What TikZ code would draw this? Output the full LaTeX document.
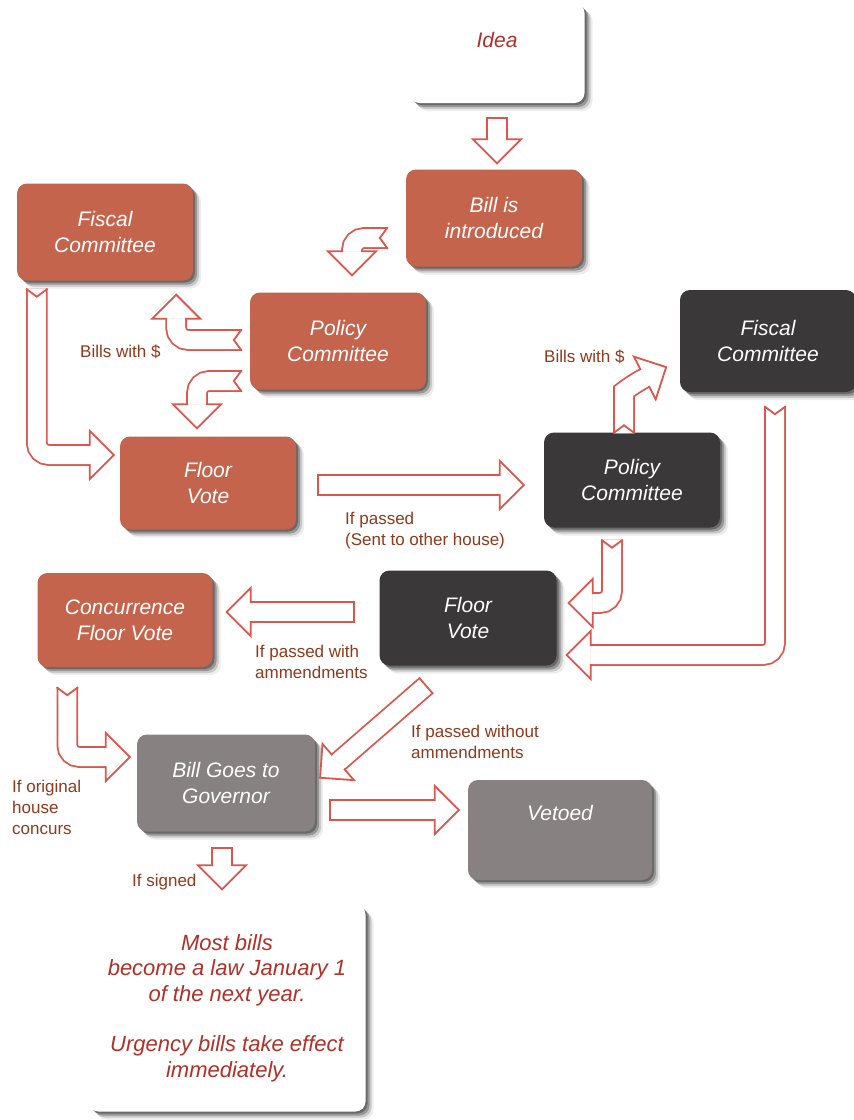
\documentclass[tikz,border=0pt]{standalone}
\usepackage{fontspec}
\setmainfont{Liberation Sans}
\usetikzlibrary{calc,shadows}

\definecolor{brick}{HTML}{C5644C}
\definecolor{slate}{HTML}{3A3838}
\definecolor{ash}{HTML}{878181}
\definecolor{arrowred}{HTML}{D9574F}
\definecolor{labelbrown}{HTML}{8E3A1C}
\definecolor{notered}{HTML}{B0302A}

% hollow head and notched (or flat) tail of a fat arrow
\newcommand{\fathead}[2]{%
  \begin{scope}[shift={#1}, rotate=#2]
    \fill[white] (0,-24) -- (24,0) -- (0,24) -- cycle;
    \draw[tipline] (0,-9) -- (0,-24) -- (24,0) -- (0,24) -- (0,9);
  \end{scope}}
\newcommand{\fattail}[3]{%
  \begin{scope}[shift={#1}, rotate=#2]
    \draw[tipline] (0,-10.8) -- (#3,0) -- (0,10.8);
  \end{scope}}

\begin{document}
\begin{tikzpicture}[x=1pt, y=-1pt,
    every node/.style={inner sep=0pt},
    softshadow/.style={
      drop shadow={shadow xshift=2pt, shadow yshift=-2pt, fill=black, opacity=.3},
      drop shadow={shadow xshift=4pt, shadow yshift=-4pt, fill=black, opacity=.25},
      drop shadow={shadow xshift=6pt, shadow yshift=-6pt, fill=black, opacity=.15},
      drop shadow={shadow xshift=8pt, shadow yshift=-8pt, fill=black, opacity=.07}},
    stepbox/.style={rectangle, rounded corners=10pt, minimum width=176pt,
                    minimum height=97pt, align=center, text=white,
                    font={\fontsize{21}{26}\selectfont\itshape}, softshadow},
    house/.style={stepbox, fill=brick},
    other/.style={stepbox, fill=slate},
    exec/.style={stepbox, fill=ash},
    note/.style={stepbox, fill=white, text=notered},
    shaft/.style={draw=arrowred, line width=1.8pt, double=white,
                  double distance=18pt, rounded corners=12pt},
    tipline/.style={draw=arrowred, line width=1.8pt},
    why/.style={font={\fontsize{17}{21}\selectfont}, text=labelbrown, align=left}
  ]
  \fill[white] (0,0) rectangle (854,1120);
  \useasboundingbox (0,0) rectangle (854,1120);

  % first house
  \node[note, minimum width=175pt, minimum height=100pt,
        text height=15pt, text depth=27pt] (idea) at (497,53) {Idea};
  \node[house] (bill) at (494,218) {Bill is\\introduced};
  \node[house] (fiscalA) at (105,232) {Fiscal\\Committee};
  \node[house] (policyA) at (338,341) {Policy\\Committee};
  \node[house, minimum height=93pt] (floorA) at (208,483) {Floor\\Vote};
  \node[house, minimum width=175pt, minimum height=94pt] (concur) at (125,620)
    {Concurrence\\Floor Vote};

  % other house
  \node[other, minimum height=102pt] (fiscalB) at (768,341) {Fiscal\\Committee};
  \node[other, minimum height=95pt] (policyB) at (632,480) {Policy\\Committee};
  \node[other, minimum width=177pt, minimum height=95pt] (floorB) at (468,618)
    {Floor\\Vote};

  % governor
  \node[exec, minimum width=178pt] (gov) at (226,783) {Bill Goes to\\Governor};
  \node[exec, minimum width=184pt, minimum height=100pt,
        text height=15pt, text depth=35pt] (vetoed) at (560,830) {Vetoed};
  \node[note, minimum width=277pt, minimum height=207pt,
        font={\fontsize{22}{25.5}\selectfont\itshape}] (law) at (227,1008)
    {Most bills\\become a law January 1\\of the next year.\\[25pt]
     Urgency bills take effect\\immediately.};

  % labels
  \node[why, anchor=west] (dollarA) at (80,352) {Bills with \$};
  \node[why, anchor=north west] (passed) at (345,512) {If passed\\(Sent to other house)};
  \node[why, anchor=west] (dollarB) at (544,357) {Bills with \$};
  \node[why, anchor=north west] (amend) at (255,645) {If passed with\\ammendments};
  \node[why, anchor=north west] (concurs) at (12,780) {If original\\house\\concurs};
  \node[why, anchor=north west] (noamend) at (411,725) {If passed without\\ammendments};
  \node[why, anchor=west] (signed) at (132,882) {If signed};

  % arrows
  \draw[shaft] ($(idea.south)+(0,15)$) coordinate (t1)
    -- ($(t1 |- bill.north)+(0,-30)$) coordinate (h1);
  \fattail{(t1)}{-90}{0} \fathead{(h1)}{-90}

  \draw[shaft] ($(bill.west)+(-18,20)$) coordinate (t2)
    -| ($(policyA.north)+(14,-41)$) coordinate (h2);
  \fattail{(t2)}{180}{8} \fathead{(h2)}{-90}

  \draw[shaft] ($(policyA.west)+(-8,-1)$) coordinate (t3)
    -| ($(fiscalA.south east)+(-17,38)$) coordinate (h3);
  \fattail{(t3)}{180}{8} \fathead{(h3)}{90}

  \draw[shaft] ($(policyA.west)+(-8,40)$) coordinate (t4)
    -| ($(floorA.north)+(-11,-32)$) coordinate (h4);
  \fattail{(t4)}{180}{8} \fathead{(h4)}{-90}

  \draw[shaft] ($(fiscalA.south west)+(20,8)$) coordinate (t5)
    |- ($(floorA.west)+(-30,-28)$) coordinate (h5);
  \fattail{(t5)}{-90}{8} \fathead{(h5)}{0}

  \draw[shaft] ($(floorA.east)+(22,2)$) coordinate (t6)
    -- ($(t6 -| policyB.west)+(-44,0)$) coordinate (h6);
  \fattail{(t6)}{0}{0} \fathead{(h6)}{0}

  \draw[shaft] ($(policyB.north)+(-8,1)$) coordinate (t7) -- ++(0,-30)
    .. controls +(0,-12) and +(-10,5) .. ($(fiscalB.west)+(-35,37)$) coordinate (h7);
  \fattail{(t7)}{90}{8} \fathead{(h7)}{27}

  \draw[shaft] ($(fiscalB.south)+(7,14)$) coordinate (t8)
    |- ($(floorB.east)+(34,37)$) coordinate (h8);
  \fattail{(t8)}{-90}{8} \fathead{(h8)}{180}

  \draw[shaft] ($(policyB.south)+(-20,12)$) coordinate (t9)
    |- ($(floorB.east)+(36,-15)$) coordinate (h9);
  \fattail{(t9)}{-90}{8} \fathead{(h9)}{180}

  \draw[shaft] ($(floorB.west)+(-25,-6)$) coordinate (t10)
    -- ($(t10 -| concur.east)+(38,0)$) coordinate (h10);
  \fattail{(t10)}{180}{0} \fathead{(h10)}{180}

  \draw[shaft] ($(concur.south west)+(30,20)$) coordinate (t11)
    |- ($(gov.west)+(-31,-26)$) coordinate (h11);
  \fattail{(t11)}{-90}{8} \fathead{(h11)}{0}

  \draw[shaft] ($(floorB.south)+(-42,20)$) coordinate (t12)
    -- ($(gov.east)+(23,-21)$) coordinate (h12);
  \fattail{(t12)}{-139}{0} \fathead{(h12)}{-139}

  \draw[shaft] ($(gov.east)+(15,27)$) coordinate (t13)
    -- ($(t13 -| vetoed.west)+(-33,0)$) coordinate (h13);
  \fattail{(t13)}{0}{0} \fathead{(h13)}{0}

  \draw[shaft] ($(gov.south)+(-4,16)$) coordinate (t14)
    -- ($(t14 |- law.north)+(0,-39)$) coordinate (h14);
  \fattail{(t14)}{-90}{0} \fathead{(h14)}{-90}
\end{tikzpicture}
\end{document}
